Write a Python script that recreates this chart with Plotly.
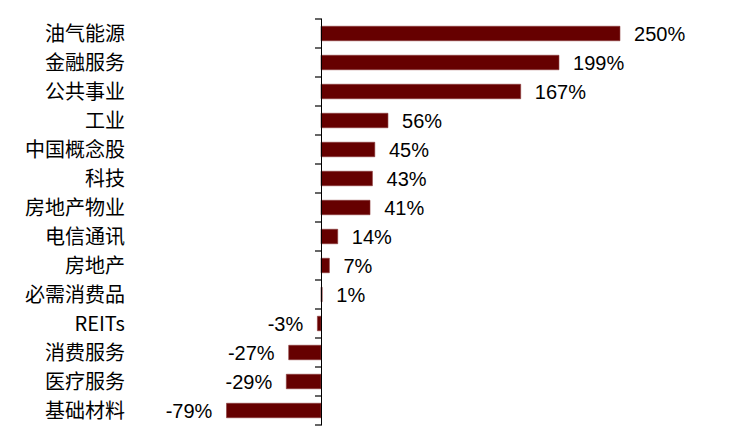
import plotly.graph_objects as go

# ------------ Data ------------
sectors = ["油气能源", "金融服务", "公共事业", "工业", "中国概念股", "科技", "房地产物业",
           "电信通讯", "房地产", "必需消费品", "REITs", "消费服务", "医疗服务", "基础材料"]
changes = [250, 199, 167, 56, 45, 43, 41, 14, 7, 1, -3, -27, -29, -79]

labels = [f"  {v}%" if v >= 0 else f"{v}%  " for v in changes]
n = len(sectors)
rows = list(range(n))
bounds = [k - 0.5 for k in range(n + 1)]

xmin, xmax = -159.7, 332.8
plot_w = 739 - 122 - 28
tick_px = 5
tick_x = -(tick_px / 2) * (xmax - xmin) / plot_w

# ------------ Plot ------------
fig = go.Figure()
fig.add_trace(go.Bar(
    x=changes, y=rows, orientation="h",
    marker=dict(color="#660000", line=dict(color="#8c3b3b", width=0.6)),
    text=labels, textposition="outside", cliponaxis=False, constraintext="none",
    textfont=dict(family="Liberation Sans, Arial", size=20, color="black"),
    width=0.5, hoverinfo="x+y",
))
# tick marks on the category boundaries, left of the x=0 axis line
fig.add_trace(go.Scatter(
    x=[tick_x] * len(bounds), y=bounds, mode="markers", cliponaxis=False,
    marker=dict(symbol="line-ew", size=tick_px, line=dict(color="black", width=1.2)),
    hoverinfo="skip", showlegend=False,
))

fig.update_layout(
    width=739, height=442,
    margin=dict(l=122, r=28, t=11, b=25),
    plot_bgcolor="white", paper_bgcolor="white",
    showlegend=False,
    font=dict(family="Noto Sans CJK SC, Liberation Sans", size=20, color="black"),
    xaxis=dict(range=[xmin, xmax], visible=False, fixedrange=True),
    # axis line at x=0, labels pushed far left
    yaxis=dict(
        range=[n - 0.5, -0.5], anchor="free",
        position=(0 - xmin) / (xmax - xmin), automargin=False,
        showgrid=False, zeroline=False,
        showline=True, linecolor="black", linewidth=1.2,
        tickmode="array", tickvals=rows, ticktext=sectors, ticks="",
        ticklabelstandoff=192,
        tickfont=dict(family="Noto Sans CJK SC, Liberation Sans", size=20, color="black"),
    ),
)
fig.write_html("out.html")
